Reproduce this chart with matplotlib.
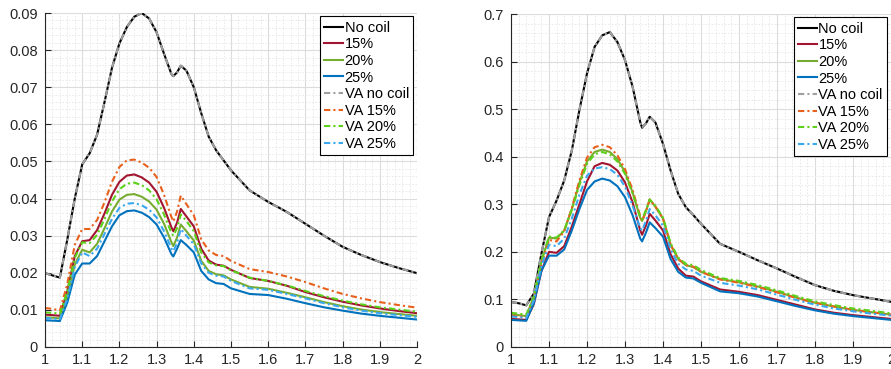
import numpy as np
import matplotlib
matplotlib.use('Agg')
import matplotlib.pyplot as plt
from matplotlib.ticker import MultipleLocator

plt.rcParams['font.family'] = ['Liberation Sans', 'DejaVu Sans']

X = [1.0, 1.02, 1.04, 1.06, 1.08, 1.10, 1.12, 1.14, 1.16, 1.18, 1.20, 1.22, 1.24, 1.26,
     1.28, 1.30, 1.32, 1.34, 1.345, 1.355, 1.365, 1.38, 1.40, 1.42, 1.44, 1.46, 1.48,
     1.50, 1.55, 1.60, 1.65, 1.70, 1.75, 1.80, 1.85, 1.90, 1.95, 2.00]

LABELS = ['No coil', '15%', '20%', '25%', 'VA no coil', 'VA 15%', 'VA 20%', 'VA 25%']

# ---- left panel ----
L_nocoil = [0.0199, 0.0193, 0.0187, 0.0290, 0.0400, 0.0492, 0.0522, 0.0572, 0.0660, 0.0752,
            0.0818, 0.0862, 0.0890, 0.0900, 0.0885, 0.0848, 0.0790, 0.0735, 0.0730, 0.0740,
            0.0758, 0.0745, 0.0700, 0.0630, 0.0567, 0.0530, 0.0503, 0.0476, 0.0422, 0.0391,
            0.0364, 0.0332, 0.0300, 0.0270, 0.0248, 0.0229, 0.0213, 0.0199]
L_15 = [0.0087, 0.0086, 0.0084, 0.0150, 0.0245, 0.0285, 0.0288, 0.0315, 0.0360, 0.0410,
        0.0445, 0.0462, 0.0465, 0.0457, 0.0443, 0.0418, 0.0375, 0.0322, 0.0312, 0.0335,
        0.0372, 0.0352, 0.0325, 0.0265, 0.0233, 0.0222, 0.0219, 0.0208, 0.0186, 0.0178,
        0.0165, 0.0148, 0.0134, 0.0122, 0.0112, 0.0104, 0.0097, 0.0091]
L_20 = [0.0080, 0.0079, 0.0077, 0.0135, 0.0222, 0.0262, 0.0255, 0.0278, 0.0320, 0.0365,
        0.0397, 0.0410, 0.0412, 0.0405, 0.0392, 0.0370, 0.0332, 0.0282, 0.0272, 0.0295,
        0.0330, 0.0312, 0.0287, 0.0232, 0.0205, 0.0196, 0.0193, 0.0182, 0.0162, 0.0157,
        0.0146, 0.0134, 0.0121, 0.0110, 0.0101, 0.0094, 0.0089, 0.0084]
L_25 = [0.0072, 0.0071, 0.0070, 0.0120, 0.0195, 0.0225, 0.0225, 0.0245, 0.0285, 0.0325,
        0.0355, 0.0366, 0.0368, 0.0362, 0.0350, 0.0330, 0.0295, 0.0250, 0.0244, 0.0265,
        0.0288, 0.0275, 0.0255, 0.0205, 0.0182, 0.0172, 0.0170, 0.0158, 0.0143, 0.0140,
        0.0130, 0.0118, 0.0107, 0.0098, 0.0090, 0.0084, 0.0079, 0.0074]
L_va_nocoil = L_nocoil
L_va15 = [0.0105, 0.0103, 0.0098, 0.0170, 0.0275, 0.0318, 0.0318, 0.0342, 0.0390, 0.0445,
          0.0485, 0.0503, 0.0505, 0.0497, 0.0483, 0.0458, 0.0410, 0.0350, 0.0338, 0.0365,
          0.0408, 0.0385, 0.0355, 0.0290, 0.0260, 0.0248, 0.0245, 0.0232, 0.0210, 0.0202,
          0.0190, 0.0175, 0.0158, 0.0143, 0.0131, 0.0121, 0.0113, 0.0106]
L_va20 = [0.0093, 0.0092, 0.0090, 0.0150, 0.0240, 0.0282, 0.0280, 0.0302, 0.0345, 0.0392,
          0.0425, 0.0440, 0.0443, 0.0436, 0.0422, 0.0398, 0.0357, 0.0307, 0.0300, 0.0320,
          0.0357, 0.0340, 0.0312, 0.0255, 0.0228, 0.0220, 0.0218, 0.0207, 0.0187, 0.0178,
          0.0166, 0.0151, 0.0137, 0.0125, 0.0115, 0.0107, 0.0101, 0.0095]
L_va25 = [0.0078, 0.0077, 0.0075, 0.0130, 0.0215, 0.0255, 0.0245, 0.0265, 0.0305, 0.0345,
          0.0375, 0.0386, 0.0388, 0.0382, 0.0370, 0.0349, 0.0312, 0.0265, 0.0258, 0.0280,
          0.0318, 0.0300, 0.0277, 0.0225, 0.0200, 0.0192, 0.0190, 0.0178, 0.0158, 0.0154,
          0.0143, 0.0131, 0.0118, 0.0107, 0.0098, 0.0091, 0.0086, 0.0081]

# ---- right panel ----
R_nocoil = [0.0946, 0.092, 0.0876, 0.112, 0.196, 0.273, 0.308, 0.350, 0.413, 0.498,
            0.575, 0.631, 0.655, 0.662, 0.641, 0.603, 0.547, 0.473, 0.461, 0.470,
            0.484, 0.472, 0.427, 0.371, 0.322, 0.294, 0.277, 0.259, 0.217, 0.200,
            0.182, 0.165, 0.147, 0.130, 0.118, 0.109, 0.102, 0.095]
R_15 = [0.059, 0.058, 0.057, 0.090, 0.160, 0.200, 0.198, 0.212, 0.253, 0.300,
        0.348, 0.380, 0.387, 0.383, 0.371, 0.346, 0.304, 0.245, 0.236, 0.255,
        0.280, 0.266, 0.245, 0.195, 0.165, 0.150, 0.148, 0.138, 0.121, 0.116,
        0.109, 0.099, 0.089, 0.079, 0.072, 0.067, 0.063, 0.059]
R_20 = [0.068, 0.067, 0.065, 0.105, 0.180, 0.230, 0.228, 0.245, 0.290, 0.345,
        0.390, 0.410, 0.415, 0.410, 0.395, 0.368, 0.325, 0.272, 0.265, 0.285,
        0.310, 0.295, 0.270, 0.215, 0.185, 0.172, 0.168, 0.158, 0.143, 0.136,
        0.127, 0.116, 0.104, 0.093, 0.085, 0.078, 0.073, 0.068]
R_25 = [0.057, 0.056, 0.055, 0.092, 0.160, 0.192, 0.192, 0.205, 0.245, 0.290,
        0.330, 0.348, 0.354, 0.350, 0.338, 0.315, 0.277, 0.228, 0.222, 0.240,
        0.262, 0.250, 0.232, 0.185, 0.158, 0.146, 0.144, 0.135, 0.117, 0.113,
        0.106, 0.096, 0.086, 0.077, 0.070, 0.065, 0.061, 0.057]
R_va_nocoil = R_nocoil
R_va15 = [0.066, 0.065, 0.063, 0.100, 0.175, 0.225, 0.222, 0.243, 0.292, 0.350,
          0.398, 0.420, 0.425, 0.420, 0.403, 0.374, 0.330, 0.275, 0.265, 0.285,
          0.310, 0.295, 0.270, 0.215, 0.185, 0.172, 0.169, 0.158, 0.142, 0.135,
          0.126, 0.115, 0.103, 0.093, 0.085, 0.078, 0.073, 0.068]
R_va20 = [0.072, 0.070, 0.068, 0.105, 0.182, 0.232, 0.230, 0.245, 0.288, 0.340,
          0.385, 0.405, 0.410, 0.405, 0.390, 0.364, 0.323, 0.272, 0.268, 0.288,
          0.310, 0.297, 0.272, 0.218, 0.188, 0.175, 0.172, 0.162, 0.145, 0.139,
          0.130, 0.119, 0.107, 0.096, 0.088, 0.081, 0.076, 0.071]
R_va25 = [0.064, 0.063, 0.061, 0.098, 0.170, 0.215, 0.212, 0.228, 0.270, 0.320,
          0.360, 0.375, 0.378, 0.374, 0.362, 0.337, 0.297, 0.250, 0.245, 0.265,
          0.290, 0.277, 0.255, 0.205, 0.175, 0.163, 0.160, 0.150, 0.135, 0.129,
          0.121, 0.110, 0.099, 0.089, 0.081, 0.075, 0.070, 0.066]

COLORS = ['#000000', '#A2142F', '#77AC30', '#0072BD',
          '#A0A0A0', '#E8601C', '#5BD11A', '#3AA8F0']
DASHDOT = (0, (3, 1.5, 1, 1.5))
STYLES = ['-', '-', '-', '-', DASHDOT, DASHDOT, DASHDOT, DASHDOT]

fig = plt.figure(figsize=(8.91, 3.69), dpi=100)
axL = fig.add_axes([45 / 891, 22 / 369, 372 / 891, 334 / 369])
axR = fig.add_axes([511 / 891, 22 / 369, 380 / 891, 333 / 369])


def draw(ax, series, ymax, ystep):
    for y, lab, c, ls in zip(series, LABELS, COLORS, STYLES):
        ax.plot(X, y, color=c, linestyle=ls, linewidth=1.5, label=lab)
    ax.set_xlim(1, 2)
    ax.set_ylim(0, ymax)
    ax.xaxis.set_minor_locator(MultipleLocator(0.02))
    ax.yaxis.set_minor_locator(MultipleLocator(ystep / 5))
    ax.set_xticks(np.round(np.arange(1, 2.01, 0.1), 1))
    ax.set_xticklabels(['1'] + ['%.1f' % v for v in np.arange(1.1, 1.95, 0.1)] + ['2'])
    ax.grid(which='major', color='#DCDCDC', linewidth=0.8)
    ax.grid(which='minor', color='#E6E6E6', linewidth=0.6, linestyle=(0, (2, 2)))
    ax.set_axisbelow(True)
    for s in ['top', 'right']:
        ax.spines[s].set_visible(False)
    for s in ['left', 'bottom']:
        ax.spines[s].set_color('#262626')
        ax.spines[s].set_linewidth(0.8)
    ax.tick_params(which='major', direction='in', length=4, width=0.8, color='#262626',
                   labelsize=10.5, labelcolor='#262626')
    ax.tick_params(which='minor', length=0)
    ax.tick_params(axis='y', pad=5)
    ax.tick_params(axis='x', pad=4)
    leg = ax.legend(loc='upper right', bbox_to_anchor=(0.99, 0.99), fontsize=10.5,
                    handlelength=1.3, handletextpad=0.1, labelspacing=0.18,
                    borderpad=0.3, borderaxespad=0, fancybox=False, framealpha=1)
    leg.get_frame().set_edgecolor('#000000')
    leg.get_frame().set_linewidth(0.8)


draw(axL, [L_nocoil, L_15, L_20, L_25, L_va_nocoil, L_va15, L_va20, L_va25], 0.09, 0.01)
axL.set_yticks(np.arange(0, 0.0901, 0.01))
axL.set_yticklabels(['0'] + ['%.2f' % v for v in np.arange(0.01, 0.0901, 0.01)])
draw(axR, [R_nocoil, R_15, R_20, R_25, R_va_nocoil, R_va15, R_va20, R_va25], 0.7, 0.1)
axR.set_yticks(np.arange(0, 0.701, 0.1))
axR.set_yticklabels(['0'] + ['%.1f' % v for v in np.arange(0.1, 0.701, 0.1)])

fig.savefig('out.png', dpi=100)
